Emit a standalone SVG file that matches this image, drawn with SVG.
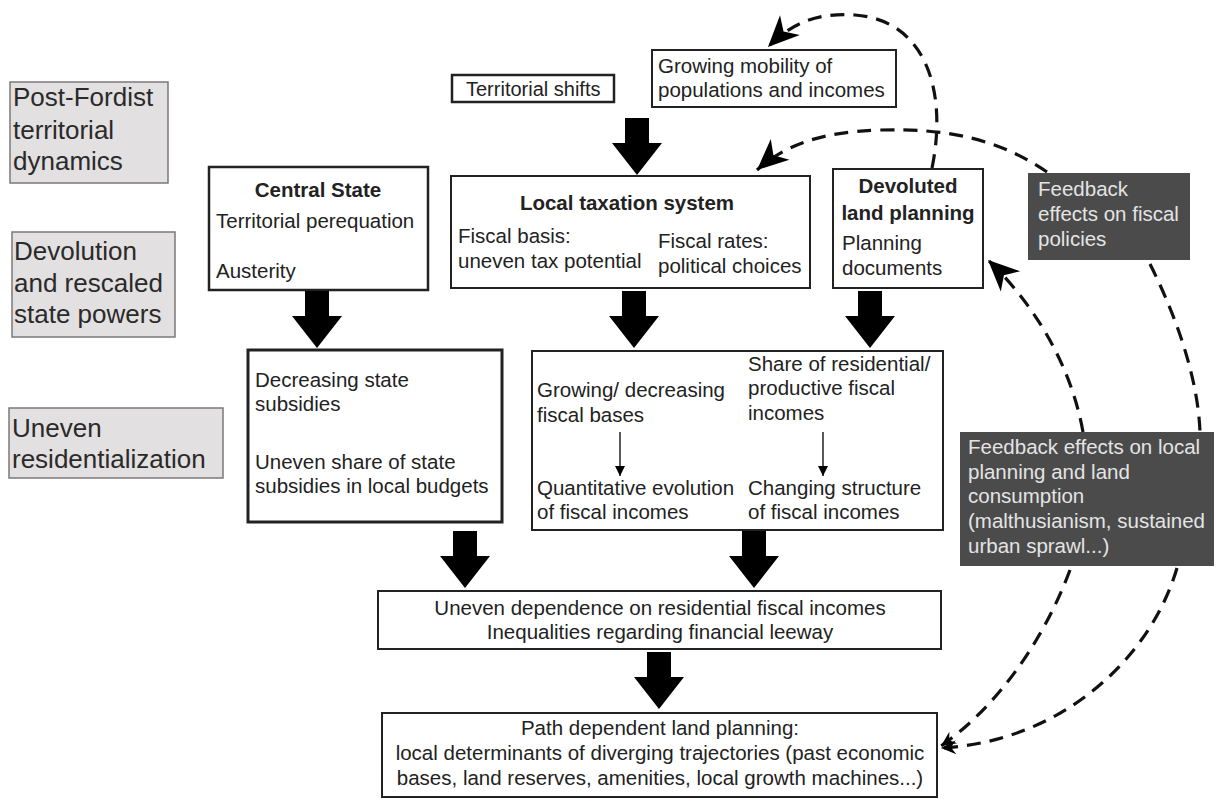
<svg xmlns="http://www.w3.org/2000/svg" width="1218" height="799" viewBox="0 0 1218 799">
<style>
text{font-family:"Liberation Sans",Arial,sans-serif;font-size:20.5px;fill:#222}
.b{font-weight:bold}
.c{text-anchor:middle}
.lab{font-size:26px;fill:#2a2a2a}
.wt{fill:#e4e4e4}
.box{fill:#fff;stroke:#222;stroke-width:2}
.gbox{fill:#e2e0e0;stroke:#7a7a7a;stroke-width:1.5}
.dbox{fill:#4b4b4b;stroke:none}
.dash{fill:none;stroke:#111;stroke-width:3.2;stroke-dasharray:14 9}
.thin{fill:none;stroke:#222;stroke-width:1.5}
</style>
<defs>
<path id="bigarrow" d="M-12 0H12V25H25L0 57L-25 25H-12Z" fill="#000"/>
<marker id="head" viewBox="-32 -15 34 30" refX="0" refY="0" markerWidth="34" markerHeight="30" markerUnits="userSpaceOnUse" orient="auto">
<path d="M0 0L-31 -14L-22 0L-31 14Z" fill="#000"/>
</marker>
<marker id="headsm" viewBox="-16 -8 18 16" refX="0" refY="0" markerWidth="18" markerHeight="16" markerUnits="userSpaceOnUse" orient="auto">
<path d="M0 0L-15 -7L-10 0L-15 7Z" fill="#000"/>
</marker>
<marker id="tiny" viewBox="-10 -5 11 10" refX="0" refY="0" markerWidth="11" markerHeight="10" markerUnits="userSpaceOnUse" orient="auto">
<path d="M0 0L-10 -5L-10 5Z" fill="#000"/>
</marker>
</defs>

<g id="label-postfordist">
<rect class="gbox" x="10" y="82" width="158" height="101"/>
<text class="lab" x="13" y="106">Post-Fordist</text>
<text class="lab" x="13" y="139">territorial</text>
<text class="lab" x="13" y="170">dynamics</text>
</g>
<g id="label-devolution">
<rect class="gbox" x="12" y="232" width="163" height="105"/>
<text class="lab" x="14" y="260">Devolution</text>
<text class="lab" x="14" y="292">and rescaled</text>
<text class="lab" x="14" y="323">state powers</text>
</g>
<g id="label-uneven">
<rect class="gbox" x="9" y="408" width="214" height="70"/>
<text class="lab" x="12" y="437">Uneven</text>
<text class="lab" x="12" y="468">residentialization</text>
</g>

<g id="territorial-shifts">
<rect class="box" x="452" y="75" width="162" height="27" style="stroke-width:2.5"/>
<text x="466" y="96" style="font-size:20px">Territorial shifts</text>
</g>
<g id="growing-mobility">
<rect class="box" x="652" y="50" width="244" height="57"/>
<text x="658" y="73">Growing mobility of</text>
<text x="658" y="97">populations and incomes</text>
</g>

<g id="central-state">
<rect class="box" x="209" y="167" width="219" height="123" style="stroke-width:2.5"/>
<text class="b c" x="318" y="197">Central State</text>
<text x="216" y="228">Territorial perequation</text>
<text x="216" y="278">Austerity</text>
</g>
<g id="local-taxation">
<rect class="box" x="451" y="176" width="359" height="112"/>
<text class="b c" x="627" y="210">Local taxation system</text>
<text x="458" y="243">Fiscal basis:</text>
<text x="458" y="268">uneven tax potential</text>
<text x="658" y="248">Fiscal rates:</text>
<text x="658" y="273">political choices</text>
</g>
<g id="devoluted-planning">
<rect class="box" x="833" y="169" width="150" height="119"/>
<text class="b c" x="908" y="193">Devoluted</text>
<text class="b c" x="908" y="220">land planning</text>
<text x="842" y="250">Planning</text>
<text x="842" y="275">documents</text>
</g>
<g id="feedback-fiscal">
<rect class="dbox" x="1028" y="173" width="162" height="87"/>
<text class="wt" x="1038" y="196">Feedback</text>
<text class="wt" x="1038" y="221">effects on fiscal</text>
<text class="wt" x="1038" y="246">policies</text>
</g>

<g id="state-subsidies">
<rect class="box" x="248" y="350" width="254" height="172" style="stroke-width:3"/>
<text x="255" y="387">Decreasing state</text>
<text x="255" y="411">subsidies</text>
<text x="255" y="469">Uneven share of state</text>
<text x="255" y="493">subsidies in local budgets</text>
</g>
<g id="fiscal-incomes">
<rect class="box" x="532" y="351" width="411" height="179"/>
<text x="537" y="397">Growing/ decreasing</text>
<text x="537" y="422">fiscal bases</text>
<text x="537" y="495">Quantitative evolution</text>
<text x="537" y="519">of fiscal incomes</text>
<text x="748" y="371">Share of residential/</text>
<text x="748" y="395">productive fiscal</text>
<text x="748" y="420">incomes</text>
<text x="748" y="495">Changing structure</text>
<text x="748" y="519">of fiscal incomes</text>
<path class="thin" d="M620 432V476" marker-end="url(#tiny)"/>
<path class="thin" d="M823 432V476" marker-end="url(#tiny)"/>
</g>
<g id="feedback-local">
<rect class="dbox" x="960" y="432" width="254" height="134"/>
<text class="wt" x="968" y="454">Feedback effects on local</text>
<text class="wt" x="968" y="479">planning and land</text>
<text class="wt" x="968" y="503">consumption</text>
<text class="wt" x="968" y="528">(malthusianism, sustained</text>
<text class="wt" x="968" y="553">urban sprawl...)</text>
</g>

<g id="uneven-dependence">
<rect class="box" x="378" y="591" width="563" height="58"/>
<text class="c" x="660" y="615">Uneven dependence on residential fiscal incomes</text>
<text class="c" x="660" y="639">Inequalities regarding financial leeway</text>
</g>
<g id="path-dependent">
<rect class="box" x="382" y="713" width="555" height="84"/>
<text class="c" x="660" y="735">Path dependent land planning:</text>
<text class="c" x="660" y="760">local determinants of diverging trajectories (past economic</text>
<text class="c" x="660" y="785">bases, land reserves, amenities, local growth machines...)</text>
</g>

<g id="connectors">
<use href="#bigarrow" x="637" y="118"/>
<use href="#bigarrow" x="317" y="291"/>
<use href="#bigarrow" x="634" y="291"/>
<use href="#bigarrow" x="870" y="291"/>
<use href="#bigarrow" x="465" y="531"/>
<use href="#bigarrow" x="754" y="531"/>
<use href="#bigarrow" x="659" y="652"/>
<path class="dash" d="M932 168C948 90 925 20 855 15C815 12 790 25 768 47" marker-end="url(#head)"/>
<path class="dash" d="M1047 172C1000 140 950 128 880 130C820 132 785 145 757 170" marker-end="url(#head)"/>
<path class="dash" d="M1083 432C1070 360 1030 300 988 260" marker-end="url(#head)"/>
<path class="dash" d="M1150 264C1178 320 1198 380 1200 432"/>
<path class="dash" d="M1070 570C1040 650 990 712 941 746" marker-end="url(#headsm)"/>
<path class="dash" d="M1177 568C1150 660 1060 742 941 748" marker-end="url(#headsm)"/>
</g>
</svg>
